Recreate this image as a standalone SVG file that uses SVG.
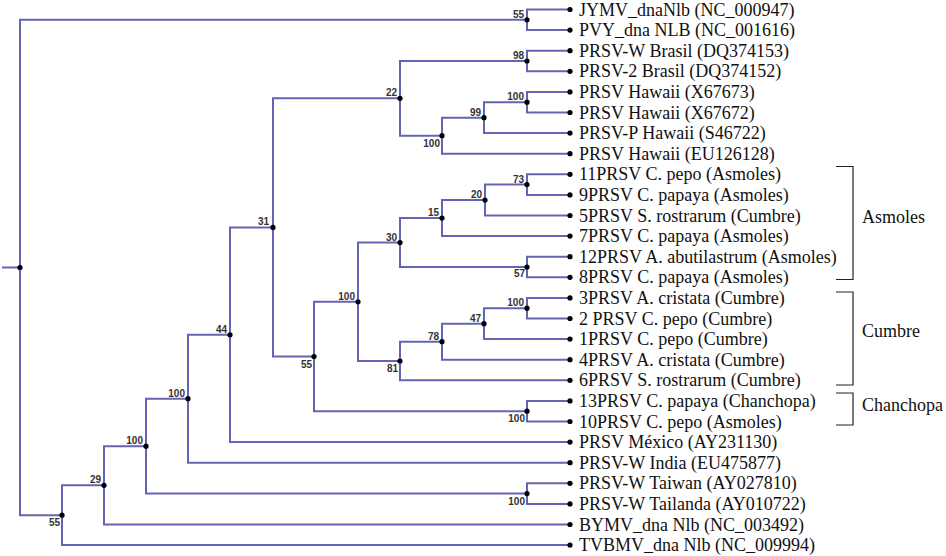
<svg xmlns="http://www.w3.org/2000/svg" width="946" height="556" viewBox="0 0 946 556">
<style>
.br{fill:none;stroke:#6464b4;stroke-width:2;stroke-linejoin:miter}
.dot{fill:#000}
.lf{font-family:"Liberation Serif","Times New Roman",serif;font-size:18px;fill:#111}
.bs{font-family:"Liberation Sans",Arial,sans-serif;font-size:10px;font-weight:bold;fill:#333;text-anchor:end}
.grp{fill:none;stroke:#222;stroke-width:1.2}
</style>
<rect width="946" height="556" fill="#fff"/>
<g id="connectors" class="br">
<path d="M2 267.5 H20"/>
<path d="M527 19.8 H20 V515.2 H62"/>
<path d="M570 9.5 H527 V30.1 H570"/>
<path d="M570 50.7 H527 V71.3 H570"/>
<path d="M570 91.9 H527 V112.5 H570"/>
<path d="M527 102.2 H484 V133.1 H570"/>
<path d="M484 117.65 H442 V153.7 H570"/>
<path d="M527 61 H400 V135.7 H442"/>
<path d="M570 174.3 H527 V194.9 H570"/>
<path d="M527 184.6 H485 V215.5 H570"/>
<path d="M485 200.05 H442 V236.1 H570"/>
<path d="M570 256.7 H527 V277.3 H570"/>
<path d="M442 218.1 H400 V267 H527"/>
<path d="M570 297.9 H527 V318.5 H570"/>
<path d="M527 308.2 H484 V339.1 H570"/>
<path d="M484 323.65 H442 V359.7 H570"/>
<path d="M442 341.7 H400 V380.3 H570"/>
<path d="M400 242.55 H358 V361 H400"/>
<path d="M570 400.9 H527 V421.5 H570"/>
<path d="M358 301.8 H314 V411.2 H527"/>
<path d="M400 98.35 H273 V356.5 H314"/>
<path d="M273 227.4 H230 V442.1 H570"/>
<path d="M230 334.75 H188 V462.7 H570"/>
<path d="M570 483.3 H527 V503.9 H570"/>
<path d="M188 398.7 H146 V493.6 H527"/>
<path d="M146 446.15 H104 V524.5 H570"/>
<path d="M104 485.3 H62 V545.1 H570"/>
</g>
<g id="internal-nodes">
<g id="n-root"><circle class="dot" cx="20" cy="267.5" r="2.6"/></g>
<g id="n-a"><circle class="dot" cx="527" cy="19.8" r="2.6"/><text class="bs" x="524" y="17.8">55</text></g>
<g id="n-b"><circle class="dot" cx="527" cy="61" r="2.6"/><text class="bs" x="524" y="59">98</text></g>
<g id="n-c"><circle class="dot" cx="527" cy="102.2" r="2.6"/><text class="bs" x="524" y="100.2">100</text></g>
<g id="n-d"><circle class="dot" cx="484" cy="117.65" r="2.6"/><text class="bs" x="481" y="115.6">99</text></g>
<g id="n-e"><circle class="dot" cx="442" cy="135.7" r="2.6"/><text class="bs" x="440" y="146.7">100</text></g>
<g id="n-f"><circle class="dot" cx="400" cy="98.35" r="2.6"/><text class="bs" x="397" y="96.3">22</text></g>
<g id="n-g"><circle class="dot" cx="527" cy="184.6" r="2.6"/><text class="bs" x="524" y="182.6">73</text></g>
<g id="n-h"><circle class="dot" cx="485" cy="200.05" r="2.6"/><text class="bs" x="482" y="198">20</text></g>
<g id="n-i"><circle class="dot" cx="442" cy="218.1" r="2.6"/><text class="bs" x="439" y="216.1">15</text></g>
<g id="n-j"><circle class="dot" cx="527" cy="267" r="2.6"/><text class="bs" x="525" y="277">57</text></g>
<g id="n-k"><circle class="dot" cx="400" cy="242.55" r="2.6"/><text class="bs" x="397" y="240.5">30</text></g>
<g id="n-l"><circle class="dot" cx="527" cy="308.2" r="2.6"/><text class="bs" x="524" y="306.2">100</text></g>
<g id="n-m"><circle class="dot" cx="484" cy="323.65" r="2.6"/><text class="bs" x="481" y="321.6">47</text></g>
<g id="n-n"><circle class="dot" cx="442" cy="341.7" r="2.6"/><text class="bs" x="439" y="339.7">78</text></g>
<g id="n-o"><circle class="dot" cx="400" cy="361" r="2.6"/><text class="bs" x="398" y="372">81</text></g>
<g id="n-p"><circle class="dot" cx="358" cy="301.8" r="2.6"/><text class="bs" x="355" y="299.8">100</text></g>
<g id="n-q"><circle class="dot" cx="527" cy="411.2" r="2.6"/><text class="bs" x="525" y="422.2">100</text></g>
<g id="n-r"><circle class="dot" cx="314" cy="356.5" r="2.6"/><text class="bs" x="312" y="367.5">55</text></g>
<g id="n-s"><circle class="dot" cx="273" cy="227.4" r="2.6"/><text class="bs" x="269" y="225.4">31</text></g>
<g id="n-t"><circle class="dot" cx="230" cy="334.75" r="2.6"/><text class="bs" x="227" y="332.7">44</text></g>
<g id="n-u"><circle class="dot" cx="188" cy="398.7" r="2.6"/><text class="bs" x="185" y="396.7">100</text></g>
<g id="n-v"><circle class="dot" cx="527" cy="493.6" r="2.6"/><text class="bs" x="525" y="504.6">100</text></g>
<g id="n-w"><circle class="dot" cx="146" cy="446.15" r="2.6"/><text class="bs" x="143" y="444.1">100</text></g>
<g id="n-x"><circle class="dot" cx="104" cy="485.3" r="2.6"/><text class="bs" x="101" y="483.3">29</text></g>
<g id="n-y"><circle class="dot" cx="62" cy="515.2" r="2.6"/><text class="bs" x="60" y="526.2">55</text></g>
</g>
<g id="leaves">
<g id="leaf-1"><circle class="dot" cx="570" cy="9.5" r="2.6"/><text class="lf" x="579" y="15.5">JYMV_dnaNlb (NC_000947)</text></g>
<g id="leaf-2"><circle class="dot" cx="570" cy="30.1" r="2.6"/><text class="lf" x="579" y="36.1">PVY_dna NLB (NC_001616)</text></g>
<g id="leaf-3"><circle class="dot" cx="570" cy="50.7" r="2.6"/><text class="lf" x="579" y="56.7">PRSV-W Brasil (DQ374153)</text></g>
<g id="leaf-4"><circle class="dot" cx="570" cy="71.3" r="2.6"/><text class="lf" x="579" y="77.3">PRSV-2 Brasil (DQ374152)</text></g>
<g id="leaf-5"><circle class="dot" cx="570" cy="91.9" r="2.6"/><text class="lf" x="579" y="97.9">PRSV Hawaii (X67673)</text></g>
<g id="leaf-6"><circle class="dot" cx="570" cy="112.5" r="2.6"/><text class="lf" x="579" y="118.5">PRSV Hawaii (X67672)</text></g>
<g id="leaf-7"><circle class="dot" cx="570" cy="133.1" r="2.6"/><text class="lf" x="579" y="139.1">PRSV-P Hawaii (S46722)</text></g>
<g id="leaf-8"><circle class="dot" cx="570" cy="153.7" r="2.6"/><text class="lf" x="579" y="159.7">PRSV Hawaii (EU126128)</text></g>
<g id="leaf-9"><circle class="dot" cx="570" cy="174.3" r="2.6"/><text class="lf" x="579" y="180.3">11PRSV C. pepo (Asmoles)</text></g>
<g id="leaf-10"><circle class="dot" cx="570" cy="194.9" r="2.6"/><text class="lf" x="579" y="200.9">9PRSV C. papaya (Asmoles)</text></g>
<g id="leaf-11"><circle class="dot" cx="570" cy="215.5" r="2.6"/><text class="lf" x="579" y="221.5">5PRSV S. rostrarum (Cumbre)</text></g>
<g id="leaf-12"><circle class="dot" cx="570" cy="236.1" r="2.6"/><text class="lf" x="579" y="242.1">7PRSV C. papaya (Asmoles)</text></g>
<g id="leaf-13"><circle class="dot" cx="570" cy="256.7" r="2.6"/><text class="lf" x="579" y="262.7">12PRSV A. abutilastrum (Asmoles)</text></g>
<g id="leaf-14"><circle class="dot" cx="570" cy="277.3" r="2.6"/><text class="lf" x="579" y="283.3">8PRSV C. papaya (Asmoles)</text></g>
<g id="leaf-15"><circle class="dot" cx="570" cy="297.9" r="2.6"/><text class="lf" x="579" y="303.9">3PRSV A. cristata (Cumbre)</text></g>
<g id="leaf-16"><circle class="dot" cx="570" cy="318.5" r="2.6"/><text class="lf" x="579" y="324.5">2 PRSV C. pepo (Cumbre)</text></g>
<g id="leaf-17"><circle class="dot" cx="570" cy="339.1" r="2.6"/><text class="lf" x="579" y="345.1">1PRSV C. pepo (Cumbre)</text></g>
<g id="leaf-18"><circle class="dot" cx="570" cy="359.7" r="2.6"/><text class="lf" x="579" y="365.7">4PRSV A. cristata (Cumbre)</text></g>
<g id="leaf-19"><circle class="dot" cx="570" cy="380.3" r="2.6"/><text class="lf" x="579" y="386.3">6PRSV S. rostrarum (Cumbre)</text></g>
<g id="leaf-20"><circle class="dot" cx="570" cy="400.9" r="2.6"/><text class="lf" x="579" y="406.9">13PRSV C. papaya (Chanchopa)</text></g>
<g id="leaf-21"><circle class="dot" cx="570" cy="421.5" r="2.6"/><text class="lf" x="579" y="427.5">10PRSV C. pepo (Asmoles)</text></g>
<g id="leaf-22"><circle class="dot" cx="570" cy="442.1" r="2.6"/><text class="lf" x="579" y="448.1">PRSV México (AY231130)</text></g>
<g id="leaf-23"><circle class="dot" cx="570" cy="462.7" r="2.6"/><text class="lf" x="579" y="468.7">PRSV-W India (EU475877)</text></g>
<g id="leaf-24"><circle class="dot" cx="570" cy="483.3" r="2.6"/><text class="lf" x="579" y="489.3">PRSV-W Taiwan (AY027810)</text></g>
<g id="leaf-25"><circle class="dot" cx="570" cy="503.9" r="2.6"/><text class="lf" x="579" y="509.9">PRSV-W Tailanda (AY010722)</text></g>
<g id="leaf-26"><circle class="dot" cx="570" cy="524.5" r="2.6"/><text class="lf" x="579" y="530.5">BYMV_dna Nlb (NC_003492)</text></g>
<g id="leaf-27"><circle class="dot" cx="570" cy="545.1" r="2.6"/><text class="lf" x="579" y="551.1">TVBMV_dna Nlb (NC_009994)</text></g>
</g>
<g id="groups">
<g id="grp-asmoles"><path class="grp" d="M836 166.5 H853 V279.5 H836"/><text class="lf" x="862" y="223">Asmoles</text></g>
<g id="grp-cumbre"><path class="grp" d="M836 292 H853 V385 H836"/><text class="lf" x="862" y="337">Cumbre</text></g>
<g id="grp-chanchopa"><path class="grp" d="M836 393 H853 V425 H836"/><text class="lf" x="862" y="411">Chanchopa</text></g>
</g>
</svg>
